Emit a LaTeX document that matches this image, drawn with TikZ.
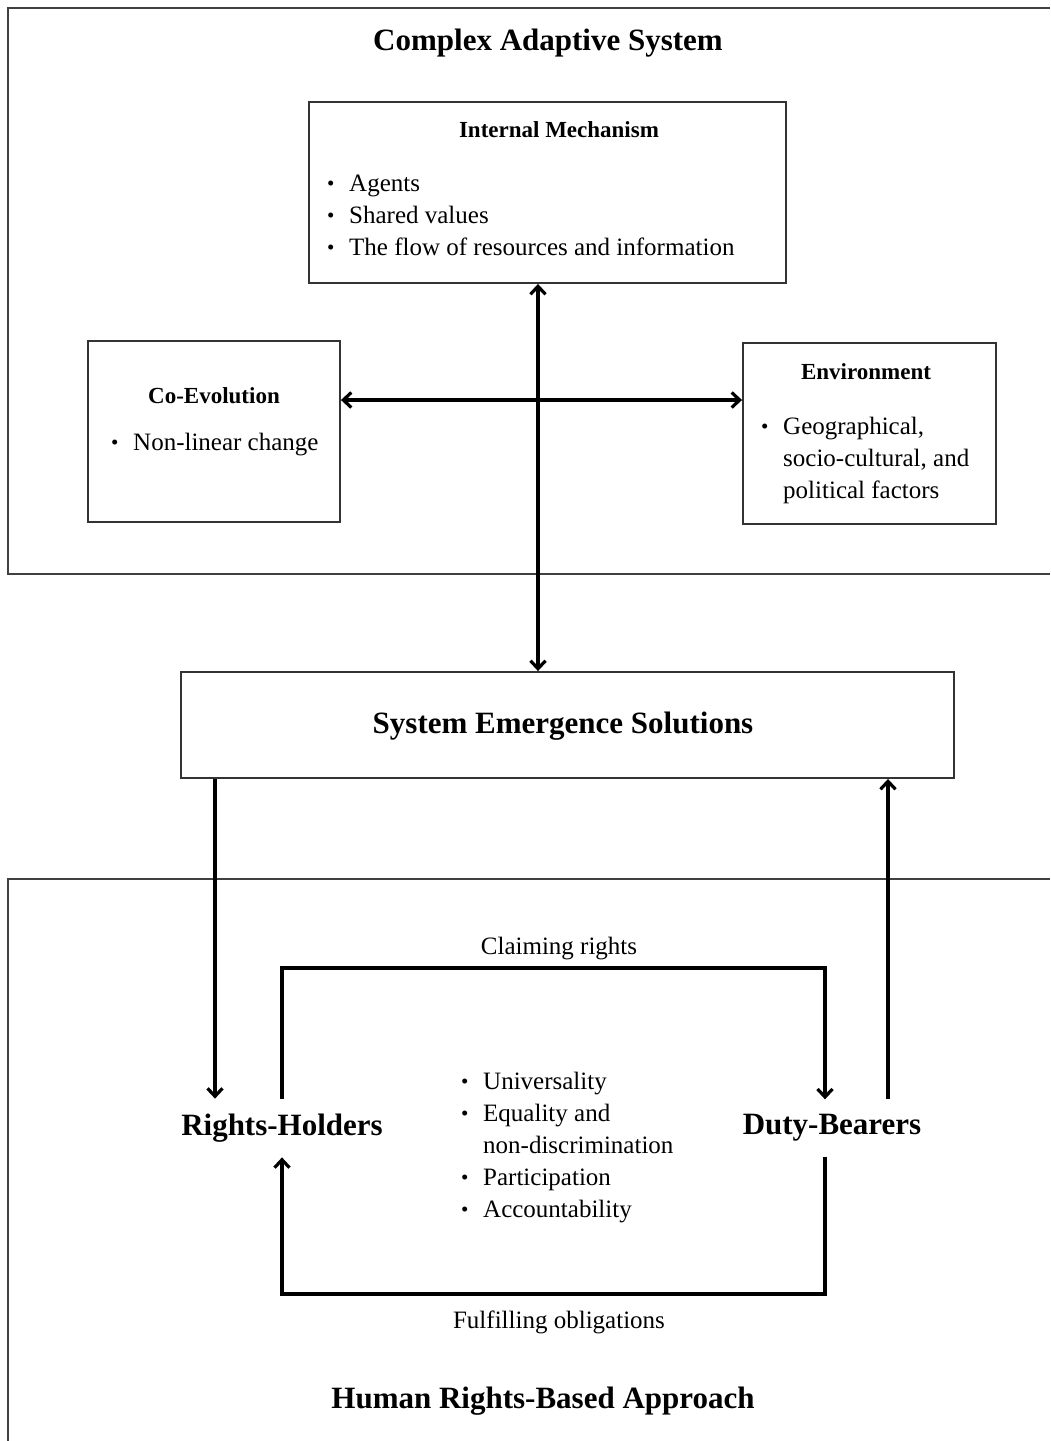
\documentclass[tikz,border=0pt]{standalone}
\usepackage{fontspec}
\setmainfont{Liberation Serif}
\usetikzlibrary{arrows.meta}
\newcommand\bul{\raisebox{0.05ex}{\fontsize{21}{21}\selectfont\textbullet}}
\newcommand\blist[1]{\begin{tabular}[t]{@{}p{22pt}@{}l@{}}#1\end{tabular}}
\begin{document}
\begin{tikzpicture}[x=1pt,y=-1pt,
  box/.style={draw=black!80, line width=1.9pt, inner sep=0pt},
  frame/.style={draw=black!75, line width=2.4pt},
  arr/.style={line width=3.2pt, -{Straight Barb[length=8pt,width=15pt]}},
  biarr/.style={line width=3.2pt, {Straight Barb[length=8pt,width=15pt]}-{Straight Barb[length=8pt,width=15pt]}},
  bigtitle/.style={font=\bfseries\fontsize{31}{36}\selectfont, inner sep=0pt},
  boxtitle/.style={font=\bfseries\fontsize{23}{28}\selectfont, inner sep=0pt},
  body/.style={font=\fontsize{25}{32}\selectfont, inner sep=0pt},
  actor/.style={font=\bfseries\fontsize{31}{36}\selectfont, inner xsep=0pt, inner ysep=15pt}
]
\useasboundingbox (0,0) rectangle (1050,1441);

% frames
\draw[frame] (1050,8) -- (8,8) -- (8,574) -- (1050,574);
\draw[frame] (1050,879) -- (8,879) -- (8,1441);

\node[bigtitle] (cas) at (548,43) {Complex Adaptive System};

% Internal mechanism
\node[box, minimum width=477pt, minimum height=181pt] (im) at (547.5,192.5) {};
\node[boxtitle] (imt) at (559,130) {Internal Mechanism};
\node[body, anchor=base west] (iml) at (327,191)
  {\blist{\bul & Agents\\ \bul & Shared values\\ \bul & The flow of resources and information}};

% Co-evolution
\node[box, minimum width=252pt, minimum height=181pt] (ce) at (214,431.5) {};
\node[boxtitle] (cet) at (214,396) {Co-Evolution};
\node[body, anchor=base west] (cel) at (111,450)
  {\blist{\bul & Non-linear change}};

% Environment
\node[box, minimum width=253pt, minimum height=181pt] (env) at (869.5,433.5) {};
\node[boxtitle] (envt) at (866,372) {Environment};
\node[body, anchor=base west] (envl) at (761,434)
  {\blist{\bul & Geographical,\\ & socio-cultural, and\\ & political factors}};

% System emergence solutions
\node[box, minimum width=773pt, minimum height=106pt] (ses) at (567.5,725) {};
\node[bigtitle] (sest) at (563,726) {System Emergence Solutions};

\coordinate (vx) at (538,0);
\coordinate (hy) at (0,400);
\draw[biarr] (im.south -| vx) -- (ses.north -| vx);
\draw[biarr] (ce.east |- hy) -- (env.west |- hy);

% Human rights based approach
\node[actor] (rh) at (282,1128) {Rights-Holders};
\node[actor] (db) at (832,1128) {Duty-Bearers};
\node[body, anchor=base west] (hrl) at (461,1089)
  {\blist{\bul & Universality\\ \bul & Equality and\\ & non-discrimination\\ \bul & Participation\\ \bul & Accountability}};

\node[body] (claim) at (559,949) {Claiming rights};
\node[body] (fulfil) at (559,1322) {Fulfilling obligations};
\node[bigtitle] (hrba) at (543,1401) {Human Rights-Based Approach};

\coordinate (looptop) at (0,968);
\coordinate (loopbot) at (0,1294);
\draw[arr] (rh.north) -- (rh.north |- looptop) -| ([xshift=-7pt]db.north);
\draw[arr] ([xshift=-7pt]db.south) -- ([xshift=-7pt]db.south |- loopbot) -| (rh.south);

\draw[arr] ([xshift=-67pt]rh.north |- ses.south) -- ([xshift=-67pt]rh.north);
\draw[arr] ([xshift=56pt]db.north) -- ([xshift=56pt]db.north |- ses.south);
\end{tikzpicture}
\end{document}
